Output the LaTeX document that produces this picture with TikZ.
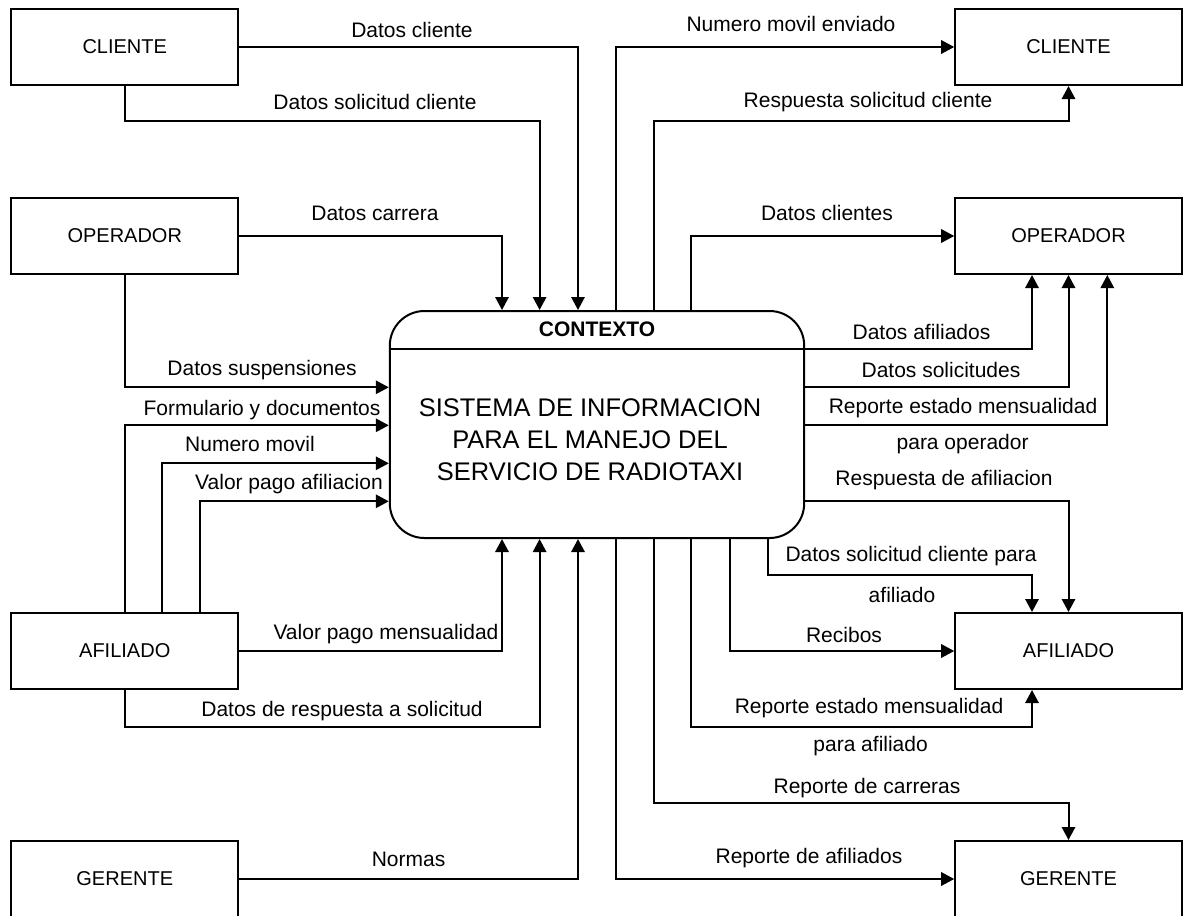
\documentclass[tikz,border=0pt]{standalone}
\usepackage{fontspec}
\setmainfont{Liberation Sans}
\usetikzlibrary{arrows.meta}
\begin{document}
\begin{tikzpicture}[x=0.75pt,y=-0.75pt,
  ent/.style={draw, line width=1.5pt, minimum width=169.9pt, minimum height=57pt, inner sep=0pt, font=\fontsize{15}{18}\selectfont},
  lbl/.style={inner sep=0pt, font=\fontsize{15.75}{18}\selectfont, text height=11.3pt, text depth=0pt},
  flow/.style={line width=1.5pt, -{Triangle[length=9.75pt,width=10pt]}},
]
\useasboundingbox (0,0) rectangle (1188,915);

% external entities
\node[ent] (cliL) at (124.75,47) {CLIENTE};
\node[ent] (opL) at (124.75,236) {OPERADOR};
\node[ent] (afL) at (124.75,651) {AFILIADO};
\node[ent] (gerL) at (124.75,879) {GERENTE};
\node[ent] (cliR) at (1068.5,47) {CLIENTE};
\node[ent] (opR) at (1068.5,236) {OPERADOR};
\node[ent] (afR) at (1068.5,651) {AFILIADO};
\node[ent] (gerR) at (1068.5,879) {GERENTE};

% process
\node[draw, line width=1.5pt, rounded corners=26pt, minimum width=310.8pt, minimum height=170.25pt, inner sep=0pt] (ctx) at (597,424.5) {};
\coordinate (hdr) at (0,349);
\draw[line width=1.5pt] (ctx.west |- hdr) -- (ctx.east |- hdr);
\node[font=\bfseries\fontsize{15.75}{18}\selectfont, inner sep=0pt, text height=11.3pt, text depth=0pt] (ctxhead) at (597,329) {CONTEXTO};
\node[font=\fontsize{19.1}{24}\selectfont, align=center, inner sep=0pt] (ctxbody) at (590,440) {SISTEMA DE INFORMACION\\PARA EL MANEJO DEL\\SERVICIO DE RADIOTAXI};

% helper columns / rows
\coordinate (xa) at (502,0);
\coordinate (xb) at (539.6,0);
\coordinate (xc) at (578,0);
\coordinate (xd) at (616,0);
\coordinate (xe) at (653.8,0);
\coordinate (xf) at (691.3,0);
\coordinate (xg) at (729.6,0);
\coordinate (xh) at (768,0);
\coordinate (xr1) at (1032,0);
\coordinate (xr3) at (1107.3,0);
\coordinate (xl2) at (162,0);
\coordinate (xl3) at (200,0);
\coordinate (y1) at (0,387.3);
\coordinate (y2) at (0,425.3);
\coordinate (y3) at (0,463.3);
\coordinate (y4) at (0,501.3);

% inputs from top
\draw[flow] (cliL.east) -| (ctx.north -| xc);
\draw[flow] (cliL.south) |- (539.6,120.7) -- (ctx.north -| xb);
\draw[flow] (opL.east) -| (ctx.north -| xa);
% inputs from left
\draw[flow] (opL.south) |- (ctx.west |- y1);
\draw[flow] (afL.north) |- (ctx.west |- y2);
\draw[flow] (afL.north -| xl2) |- (ctx.west |- y3);
\draw[flow] (afL.north -| xl3) |- (ctx.west |- y4);
% inputs from bottom
\draw[flow] (afL.east) -| (ctx.south -| xa);
\draw[flow] (afL.south) |- (539.6,726.7) -- (ctx.south -| xb);
\draw[flow] (gerL.east) -| (ctx.south -| xc);
% outputs top
\draw[flow] (ctx.north -| xd) |- (cliR.west);
\draw[flow] (ctx.north -| xe) |- (1068.5,120.7) -- (cliR.south);
\draw[flow] (ctx.north -| xf) |- (opR.west);
% outputs right
\draw[flow] (ctx.east |- hdr) -| (opR.south -| xr1);
\draw[flow] (ctx.east |- y1) -| (opR.south);
\draw[flow] (ctx.east |- y2) -| (opR.south -| xr3);
\draw[flow] (ctx.east |- y4) -| (afR.north);
% outputs bottom
\draw[flow] (ctx.south -| xh) |- (1032,575) -- (afR.north -| xr1);
\draw[flow] (ctx.south -| xg) |- (afR.west);
\draw[flow] (ctx.south -| xf) |- (1032,726.7) -- (afR.south -| xr1);
\draw[flow] (ctx.south -| xe) |- (1068.5,802.7) -- (gerR.north);
\draw[flow] (ctx.south -| xd) |- (gerR.west);

% labels
\node[lbl] (l1) at (412,29.5) {Datos cliente};
\node[lbl] (l2) at (375,101.7) {Datos solicitud cliente};
\node[lbl] (l3) at (375,213.3) {Datos carrera};
\node[lbl] (l4) at (791,23.8) {Numero movil enviado};
\node[lbl] (l5) at (868,100) {Respuesta solicitud cliente};
\node[lbl] (l6) at (827,213.3) {Datos clientes};
\node[lbl] (l7) at (262,367.5) {Datos suspensiones};
\node[lbl] (l8) at (262,407.5) {Formulario y documentos};
\node[lbl] (l9) at (250,444) {Numero movil};
\node[lbl] (l10) at (289,481.5) {Valor pago afiliacion};
\node[lbl] (l11) at (921.5,331.8) {Datos afiliados};
\node[lbl] (l12) at (941,370) {Datos solicitudes};
\node[lbl] (l13) at (963,405.8) {Reporte estado mensualidad};
\node[lbl] (l14) at (962.6,441.7) {para operador};
\node[lbl] (l15) at (944,477.5) {Respuesta de afiliacion};
\node[lbl] (l16) at (911,553.5) {Datos solicitud cliente para};
\node[lbl] (l17) at (902,595) {afiliado};
\node[lbl] (l18) at (386,631.8) {Valor pago mensualidad};
\node[lbl] (l19) at (342,709.2) {Datos de respuesta a solicitud};
\node[lbl] (l20) at (408.5,859.2) {Normas};
\node[lbl] (l21) at (844,635) {Recibos};
\node[lbl] (l22) at (869,705.8) {Reporte estado mensualidad};
\node[lbl] (l23) at (870.6,744) {para afiliado};
\node[lbl] (l24) at (867,785.8) {Reporte de carreras};
\node[lbl] (l25) at (809,855.8) {Reporte de afiliados};
\end{tikzpicture}
\end{document}
